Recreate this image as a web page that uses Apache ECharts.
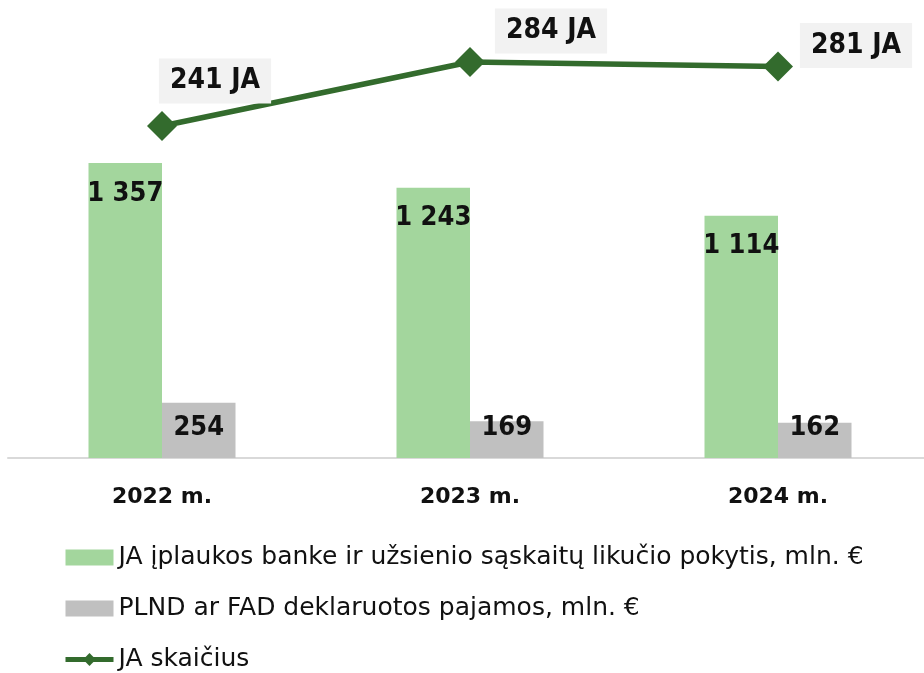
<!DOCTYPE html>
<html>
<head>
<meta charset="utf-8">
<script src="https://cdn.jsdelivr.net/npm/echarts@6/dist/echarts.min.js"></script>
<style>html,body{margin:0;padding:0;background:#fff}#c{width:924px;height:673px}</style>
</head>
<body>
<div id="c"></div>
<script>
const categories = ['2022 m.', '2023 m.', '2024 m.'];
const inflowValues = [1357, 1243, 1114];
const declaredValues = [254, 169, 162];
const jaCounts = [241, 284, 281];
const seriesNames = [
  'JA įplaukos banke ir užsienio sąskaitų likučio pokytis, mln. €',
  'PLND ar FAD deklaruotos pajamos, mln. €',
  'JA skaičius'
];
// label placement (style, not data)
const lineLabelOffsets = [[53, -45], [81, -31], [78, -21]];

const labelFont = '"DejaVu Sans Condensed", "DejaVu Sans", sans-serif';
const fmtThousands = v => String(v).replace(/\B(?=(\d{3})+(?!\d))/g, ' ');

const chart = echarts.init(document.getElementById('c'), null, {renderer: 'canvas'});
chart.setOption({
  animation: false,
  backgroundColor: '#ffffff',
  grid: {left: 8, width: 924, top: 23.2, bottom: 215, containLabel: false, outerBoundsMode: 'none'},
  legend: {
    orient: 'vertical',
    left: 63,
    top: 545,
    padding: 0,
    itemWidth: 48,
    itemHeight: 16,
    itemGap: 26,
    textStyle: {fontFamily: '"DejaVu Sans", sans-serif', fontSize: 25, lineHeight: 25, color: '#111'},
    data: [
      {name: seriesNames[0], icon: 'rect'},
      {name: seriesNames[1], icon: 'rect'},
      {name: seriesNames[2], lineStyle: {width: 5, color: '#336b2d'}, itemStyle: {color: '#336b2d'}}
    ]
  },
  xAxis: {
    type: 'category',
    data: categories,
    axisLine: {show: true, lineStyle: {color: '#d9d9d9', width: 2}},
    axisTick: {show: false},
    axisLabel: {fontFamily: '"DejaVu Sans", sans-serif', fontWeight: 'bold', fontSize: 22, color: '#111', margin: 28}
  },
  yAxis: [
    {type: 'value', min: 0, max: 2000, show: false, splitLine: {show: false}},
    {type: 'value', min: 17.9, max: 310.1, show: false, splitLine: {show: false}}
  ],
  series: [
    {
      name: seriesNames[0], type: 'bar', data: inflowValues,
      barWidth: 73.5, barGap: '0%',
      itemStyle: {color: '#a3d69d'},
      label: {show: true, position: 'insideTop', distance: 17, formatter: p => fmtThousands(p.value),
        fontFamily: labelFont, fontWeight: 'bold', fontSize: 27, color: '#111'}
    },
    {
      name: seriesNames[1], type: 'bar', data: declaredValues,
      barWidth: 73.5,
      itemStyle: {color: '#c0c0c0'},
      label: {show: true, position: 'insideBottom', distance: 17, formatter: p => fmtThousands(p.value),
        fontFamily: labelFont, fontWeight: 'bold', fontSize: 27, color: '#111'}
    },
    {
      name: seriesNames[2], type: 'line', yAxisIndex: 1, z: 5,
      data: jaCounts.map((v, i) => ({
        value: v,
        label: {offset: lineLabelOffsets[i]}
      })),
      symbol: 'diamond', symbolSize: 30,
      lineStyle: {color: '#336b2d', width: 5.5},
      itemStyle: {color: '#336b2d'},
      label: {show: true, position: 'inside', formatter: p => p.value + ' JA',
        fontFamily: labelFont, fontWeight: 'bold', fontSize: 28, lineHeight: 28, color: '#111',
        backgroundColor: '#f2f2f2', padding: [9, 11, 8, 11]}
    }
  ]
});
</script>
</body>
</html>
